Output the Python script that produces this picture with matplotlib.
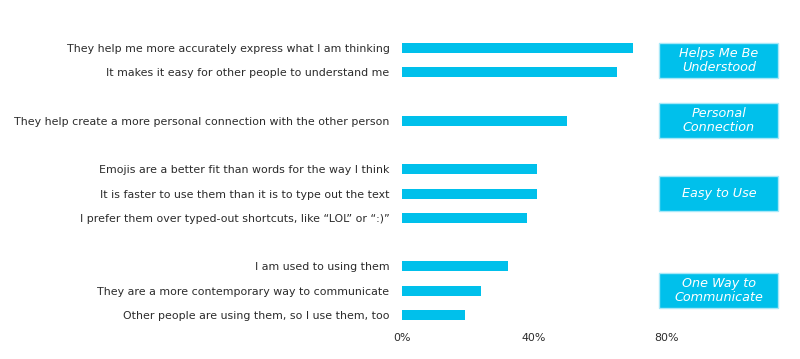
import matplotlib.pyplot as plt
from matplotlib.patches import Rectangle

# reasons for using emojis, grouped
labels = [
    "They help me more accurately express what I am thinking",
    "It makes it easy for other people to understand me",
    "They help create a more personal connection with the other person",
    "Emojis are a better fit than words for the way I think",
    "It is faster to use them than it is to type out the text",
    "I prefer them over typed-out shortcuts, like \u201cLOL\u201d or \u201c:)\u201d",
    "I am used to using them",
    "They are a more contemporary way to communicate",
    "Other people are using them, so I use them, too",
]
values = [70, 65, 50, 41, 41, 38, 32, 24, 19]
rows = [0, 1, 3, 5, 6, 7, 9, 10, 11]

groups = ["Helps Me Be\nUnderstood", "Personal\nConnection", "Easy to Use", "One Way to\nCommunicate"]
group_rows = [[0, 1], [3], [5, 6, 7], [9, 10, 11]]

xticks = [0, 40, 80]

cyan = "#00C0EB"
plt.rcParams["font.family"] = ["DejaVu Sans"]

fig = plt.figure(figsize=(8, 3.59), dpi=100)
ax = fig.add_axes([402 / 800, 32 / 359, 377 / 800, 291 / 359])

ax.barh(rows, values, height=0.41, color=cyan)
ax.set_xlim(0, 114.2)
ax.set_ylim(11.5, -0.5)
ax.set_yticks(rows)
ax.set_yticklabels(labels, fontsize=7.9, color="#2b2b2b")
ax.set_xticks(xticks)
ax.set_xticklabels([f"{t}%" for t in xticks], fontsize=7.9, color="#2b2b2b")
ax.tick_params(length=0, axis="y", pad=9)
ax.tick_params(length=0, axis="x", pad=4)
for s in ax.spines.values():
    s.set_visible(False)

# category boxes on the right
for name, gr in zip(groups, group_rows):
    c = (gr[0] + gr[-1]) / 2
    h = 1.44
    ax.add_patch(Rectangle((78, c - h / 2), 36, h, facecolor=cyan,
                           edgecolor="#A8E8F8", linewidth=1.0, clip_on=False))
    ax.text(96, c, name, ha="center", va="center", color="white",
            fontsize=9.2, style="italic", linespacing=1.12)

fig.savefig("out.png", dpi=100)
